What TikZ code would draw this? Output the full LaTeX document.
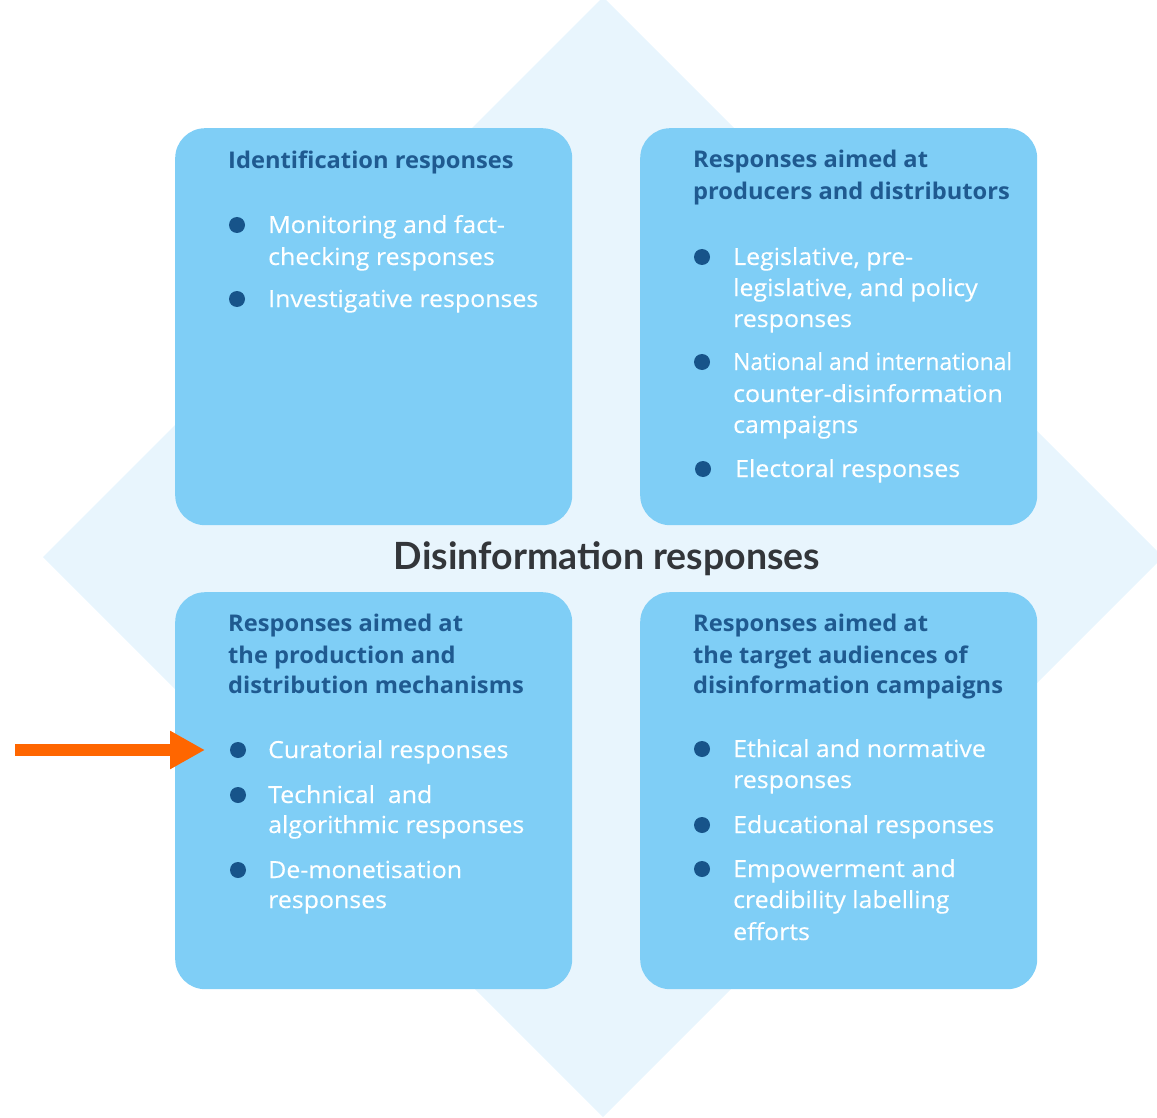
\documentclass[tikz,border=0pt]{standalone}
\usepackage{graphicx}
\usepackage{fontspec}
\setmainfont{Open Sans}
\newfontfamily\bodyfont[FakeStretch=1.06, FakeBold=0.3]{Open Sans}
\newfontfamily\headfont[FakeStretch=1.03]{Open Sans}
\newfontfamily\titlefont{Lato}
\usetikzlibrary{arrows.meta}
\definecolor{diamondblue}{HTML}{E8F5FD}
\definecolor{boxblue}{HTML}{7FCEF6}
\definecolor{headblue}{HTML}{1F5A90}
\definecolor{dotblue}{HTML}{17548A}
\definecolor{titlegray}{HTML}{33363A}
\definecolor{arroworange}{HTML}{FF6600}
\begin{document}
\begin{tikzpicture}[x=1pt,y=-1pt,
  panel/.style={fill=boxblue, rounded corners=30pt, minimum width=397pt, minimum height=397pt, anchor=north west, inner sep=0pt},
  hd/.style={anchor=base west, inner sep=0pt, text=headblue, font=\headfont\fontsize{23}{28}\selectfont\bfseries},
  bt/.style={anchor=base west, inner sep=0pt, text=white, font=\bodyfont\fontsize{23.5}{28}\selectfont},
  dot/.style={circle, fill=dotblue, minimum size=16pt, inner sep=0pt},
  ttl/.style={anchor=base, inner sep=0pt, text=titlegray, font=\titlefont\fontsize{37.5}{42}\selectfont\bfseries}
]
\useasboundingbox (0,0) rectangle (1157,1118);
\fill[diamondblue] (603,-3) -- (1163,557) -- (603,1117) -- (43,557) -- cycle;

% panels
\node[panel] (tl) at (175,128) {};
\node[panel] (tr) at (640,128) {};
\node[panel] (bl) at (175,592) {};
\node[panel] (br) at (640,592) {};

% top left
\node[hd] (tlh1) at (228,169) {Identification responses};
\node[dot] (tld1) at (237,225) {};
\node[bt] (tlt1) at (268,233) {Monitoring and fact-};
\node[bt] (tlt2) at (268,265) {checking responses};
\node[dot] (tld2) at (237,299) {};
\node[bt] (tlt3) at (268,307) {Investigative responses};

% top right
\node[hd] (trh1) at (693,168) {Responses aimed at};
\node[hd] (trh2) at (693,200) {producers and distributors};
\node[dot] (trd1) at (702,257) {};
\node[bt] (trt1) at (733,265) {Legislative, pre-};
\node[bt] (trt2) at (733,296) {legislative, and policy};
\node[bt] (trt3) at (733,327) {responses};
\node[dot] (trd2) at (702,362) {};
\node[bt] (trt4) at (733,370) {\scalebox{0.915}[1]{National and international}};
\node[bt] (trt5) at (733,402) {counter-disinformation};
\node[bt] (trt6) at (733,433) {campaigns};
\node[dot] (trd3) at (703,469) {};
\node[bt] (trt7) at (735,477) {Electoral responses};

% title
\node[ttl] (title) at (607,569) {Disinformation responses};

% bottom left
\node[hd] (blh1) at (228,631) {Responses aimed at};
\node[hd] (blh2) at (228,663) {the production and};
\node[hd] (blh3) at (228,693) {distribution mechanisms};
\node[dot] (bld1) at (238,750) {};
\node[bt] (blt1) at (268,758) {Curatorial responses};
\node[dot] (bld2) at (238,795) {};
\node[bt] (blt2) at (268,803) {Technical\ \ and};
\node[bt] (blt3) at (268,833) {algorithmic responses};
\node[dot] (bld3) at (238,870) {};
\node[bt] (blt4) at (268,878) {De-monetisation};
\node[bt] (blt5) at (268,908) {responses};

% bottom right
\node[hd] (brh1) at (693,631) {Responses aimed at};
\node[hd] (brh2) at (693,663) {the target audiences of};
\node[hd] (brh3) at (693,693) {disinformation campaigns};
\node[dot] (brd1) at (702,749) {};
\node[bt] (brt1) at (733,757) {Ethical and normative};
\node[bt] (brt2) at (733,788) {responses};
\node[dot] (brd2) at (702,825) {};
\node[bt] (brt3) at (733,833) {Educational responses};
\node[dot] (brd3) at (702,869) {};
\node[bt] (brt4) at (733,877) {Empowerment and};
\node[bt] (brt5) at (733,908) {credibility labelling};
\node[bt] (brt6) at (733,940) {efforts};

% orange arrow
\coordinate (arrS) at (15,750);
\coordinate (arrE) at (205,750);
\draw[arroworange, line width=12pt, -{Triangle[length=35pt, width=36pt]}] (arrS) -- (arrE);
\end{tikzpicture}
\end{document}
